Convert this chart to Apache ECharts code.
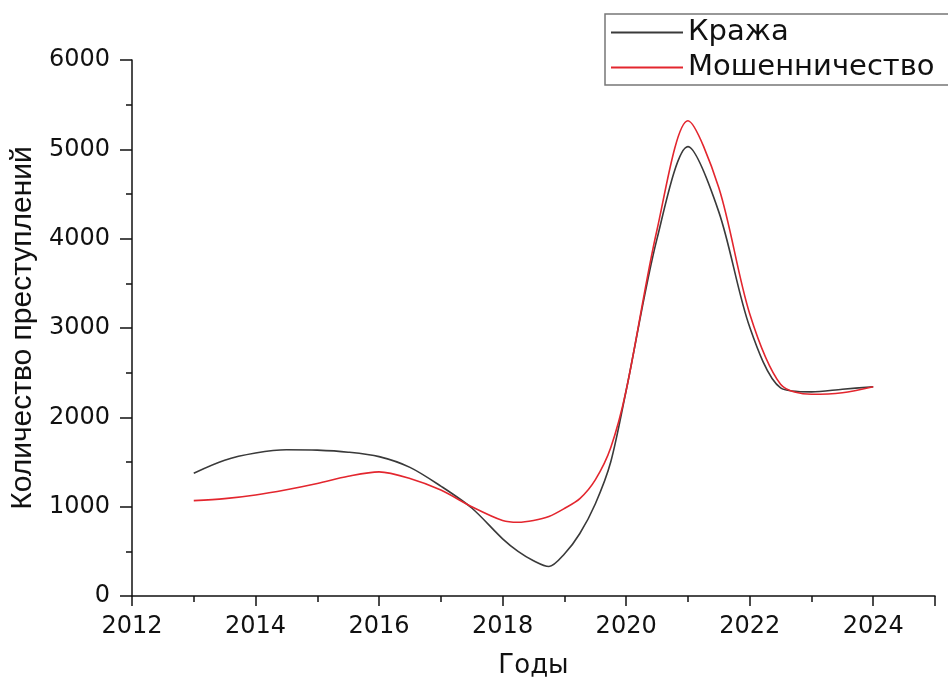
<!DOCTYPE html>
<html>
<head>
<meta charset="utf-8">
<script src="https://cdn.jsdelivr.net/npm/echarts@6/dist/echarts.min.js"></script>
<style>
html,body{margin:0;padding:0;background:#fff;}
#chart{width:948px;height:684px;}
</style>
</head>
<body>
<div id="chart"></div>
<script>
var years = [2013, 2013.5, 2014, 2014.5, 2015, 2015.5, 2016, 2016.5, 2017, 2017.5, 2018, 2018.25, 2018.5, 2018.75, 2019, 2019.25, 2019.5, 2019.75, 2020, 2020.5, 2021, 2021.5, 2022, 2022.5, 2023, 2023.5, 2024];
var krazha = [1375, 1520, 1600, 1637, 1633, 1610, 1560, 1440, 1230, 985, 640, 500, 395, 330, 470, 700, 1030, 1500, 2300, 4000, 5030, 4300, 3010, 2330, 2285, 2315, 2343];
var moshen = [1068, 1090, 1131, 1190, 1260, 1340, 1389, 1316, 1186, 1000, 845, 825, 845, 890, 980, 1090, 1300, 1660, 2300, 4100, 5320, 4570, 3160, 2370, 2258, 2276, 2343];
var seriesNames = ['Кража', 'Мошенничество'];
var xTitle = 'Годы';
var yTitle = 'Количество преступлений';

function pairs(xs, ys) { return xs.map(function (x, i) { return [x, ys[i]]; }); }

var wide = 'DejaVu Sans, Verdana, sans-serif';
var narrow = 'Liberation Sans, Arial, sans-serif';
var chart = echarts.init(document.getElementById('chart'), null, {renderer: 'canvas'});
chart.setOption({
  animation: false,
  backgroundColor: '#fff',
  grid: {left: 132, right: 13, top: 60, bottom: 82, containLabel: false},
  legend: {
    left: 605, top: 14, orient: 'vertical',
    icon: 'rect', itemWidth: 72, itemHeight: 2, itemGap: 6,
    padding: [4, 60, 3, 6],
    borderColor: '#777', borderWidth: 1.5,
    textStyle: {fontFamily: wide, fontSize: 29, color: '#111'},
    data: seriesNames
  },
  xAxis: {
    type: 'value', min: 2012, max: 2025, interval: 2,
    name: xTitle, nameLocation: 'middle', nameGap: 57,
    nameTextStyle: {fontFamily: wide, fontSize: 26, color: '#111'},
    axisLine: {show: true, onZero: false, lineStyle: {color: '#111', width: 1.5}},
    axisTick: {show: true, inside: false, length: 10, lineStyle: {color: '#111', width: 1.5}},
    minorTick: {show: true, splitNumber: 2, length: 6, lineStyle: {color: '#111', width: 1.5}},
    axisLabel: {fontFamily: wide, fontSize: 24, color: '#111', margin: 19,
      formatter: function (v) { return v >= 2025 ? '' : String(v); }},
    splitLine: {show: false}
  },
  yAxis: {
    type: 'value', min: 0, max: 6000, interval: 1000,
    name: yTitle, nameLocation: 'middle', nameGap: 89,
    nameTextStyle: {fontFamily: narrow, fontSize: 30, color: '#111'},
    axisLine: {show: true, lineStyle: {color: '#111', width: 1.5}},
    axisTick: {show: true, inside: false, length: 12, lineStyle: {color: '#111', width: 1.5}},
    minorTick: {show: true, splitNumber: 2, length: 6, lineStyle: {color: '#111', width: 1.5}},
    axisLabel: {fontFamily: wide, fontSize: 24, color: '#111', margin: 22,
      formatter: function (v) { return String(v); }},
    splitLine: {show: false}
  },
  series: [
    {name: seriesNames[0], type: 'line', data: pairs(years, krazha), smooth: 0.3, showSymbol: false,
      lineStyle: {color: '#3a3a3a', width: 1.6}, itemStyle: {color: '#3a3a3a'}},
    {name: seriesNames[1], type: 'line', data: pairs(years, moshen), smooth: 0.3, showSymbol: false,
      lineStyle: {color: '#e3262e', width: 1.6}, itemStyle: {color: '#e3262e'}}
  ]
});
</script>
</body>
</html>
